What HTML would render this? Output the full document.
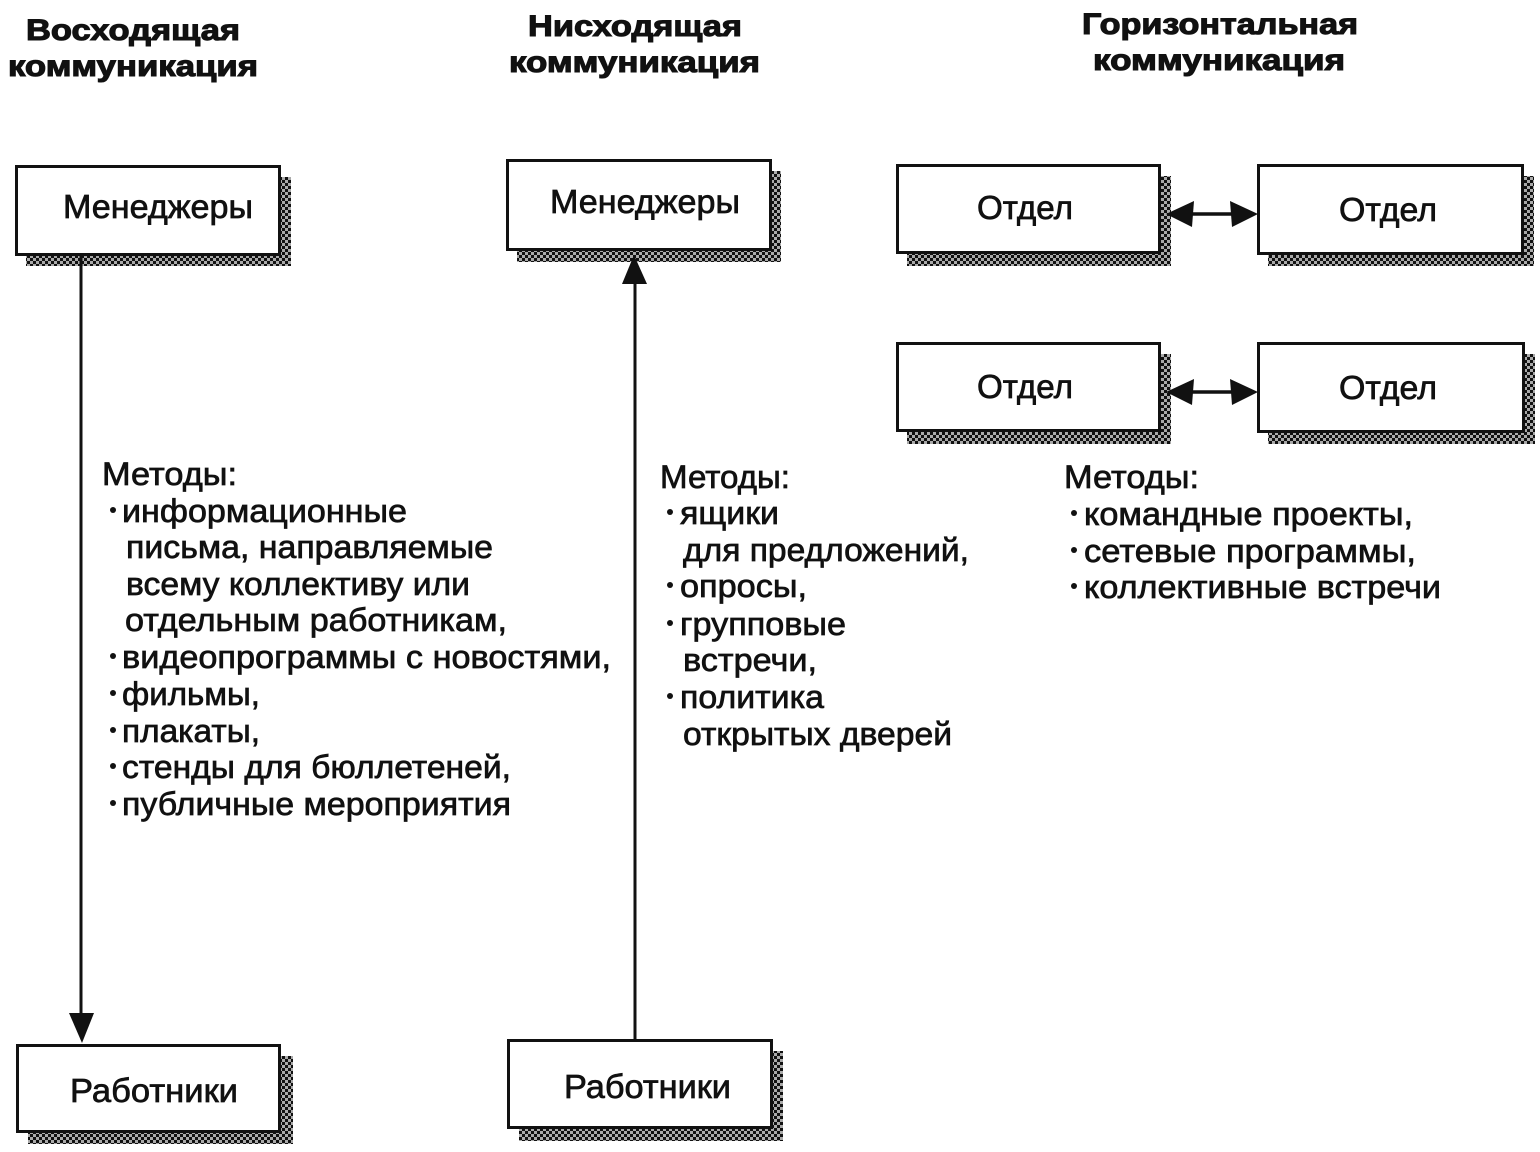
<!DOCTYPE html>
<html lang="ru">
<head>
<meta charset="utf-8">
<title>Коммуникация</title>
<style>
html,body{margin:0;padding:0;background:#fff;width:1540px;height:1152px;overflow:hidden}
svg{display:block}
text{font-family:"Liberation Sans",sans-serif;fill:#111}
.b{font-size:32px;stroke:#111;stroke-width:.7px}
.h{font-size:30px;font-weight:bold;stroke:#111;stroke-width:1.1px}
.l{font-size:33px;stroke:#111;stroke-width:.7px}
.box{fill:#fff;stroke:#111;stroke-width:3px}
.sh{fill:url(#dith)}
.ln{stroke:#111;fill:none}
</style>
</head>
<body>
<svg width="1540" height="1152" viewBox="0 0 1540 1152" xmlns="http://www.w3.org/2000/svg">
<defs>
<pattern id="dith" width="6" height="6" patternUnits="userSpaceOnUse">
<rect width="6" height="6" fill="#aaa"/>
<rect x="0" y="0" width="3" height="3" fill="#111"/>
<rect x="3" y="3" width="3" height="3" fill="#111"/>
</pattern>
</defs>

<!-- headings -->
<text class="h" x="26" y="40" textLength="214" lengthAdjust="spacingAndGlyphs">Восходящая</text>
<text class="h" x="8" y="76" textLength="250" lengthAdjust="spacingAndGlyphs">коммуникация</text>
<text class="h" x="528" y="36" textLength="214" lengthAdjust="spacingAndGlyphs">Нисходящая</text>
<text class="h" x="509" y="72" textLength="251" lengthAdjust="spacingAndGlyphs">коммуникация</text>
<text class="h" x="1082" y="34" textLength="276" lengthAdjust="spacingAndGlyphs">Горизонтальная</text>
<text class="h" x="1093" y="70" textLength="252" lengthAdjust="spacingAndGlyphs">коммуникация</text>

<!-- shadows -->
<rect class="sh" x="26" y="177" width="265" height="89"/>
<rect class="sh" x="517" y="171" width="264" height="91"/>
<rect class="sh" x="907" y="176" width="264" height="90"/>
<rect class="sh" x="1268" y="176" width="266" height="90"/>
<rect class="sh" x="907" y="354" width="264" height="90"/>
<rect class="sh" x="1268" y="354" width="267" height="90"/>
<rect class="sh" x="28" y="1056" width="265" height="88"/>
<rect class="sh" x="519" y="1051" width="264" height="90"/>

<!-- boxes -->
<rect class="box" x="16.5" y="166.5" width="263" height="88"/>
<rect class="box" x="507.5" y="160.5" width="263" height="89"/>
<rect class="box" x="897.5" y="165.5" width="262" height="87"/>
<rect class="box" x="1258.5" y="165.5" width="264" height="88"/>
<rect class="box" x="897.5" y="343.5" width="262" height="87"/>
<rect class="box" x="1258.5" y="343.5" width="265" height="88"/>
<rect class="box" x="17.5" y="1045.5" width="262" height="86"/>
<rect class="box" x="508.5" y="1040.5" width="263" height="87"/>

<!-- box labels -->
<text class="l" x="63" y="218" textLength="190" lengthAdjust="spacingAndGlyphs">Менеджеры</text>
<text class="l" x="550" y="213" textLength="190" lengthAdjust="spacingAndGlyphs">Менеджеры</text>
<text class="l" x="977" y="219" textLength="96" lengthAdjust="spacingAndGlyphs">Отдел</text>
<text class="l" x="1339" y="221" textLength="98" lengthAdjust="spacingAndGlyphs">Отдел</text>
<text class="l" x="977" y="398" textLength="96" lengthAdjust="spacingAndGlyphs">Отдел</text>
<text class="l" x="1339" y="399" textLength="98" lengthAdjust="spacingAndGlyphs">Отдел</text>
<text class="l" x="70" y="1102" textLength="168" lengthAdjust="spacingAndGlyphs">Работники</text>
<text class="l" x="564" y="1098" textLength="167" lengthAdjust="spacingAndGlyphs">Работники</text>

<!-- connectors -->
<line class="ln" x1="81" y1="255" x2="81" y2="1020" stroke-width="3"/>
<polygon points="69,1013 94,1013 82,1043" fill="#111"/>
<line class="ln" x1="635" y1="280" x2="635" y2="1040" stroke-width="3"/>
<polygon points="622,284 647,284 634,255" fill="#111"/>

<line class="ln" x1="1190" y1="214" x2="1235" y2="214" stroke-width="3.5"/>
<polygon points="1166,214 1194,201 1192,227" fill="#111"/>
<polygon points="1258,214 1230,201 1232,227" fill="#111"/>
<line class="ln" x1="1190" y1="392" x2="1235" y2="392" stroke-width="3.5"/>
<polygon points="1166,392 1194,379 1192,405" fill="#111"/>
<polygon points="1258,392 1230,379 1232,405" fill="#111"/>

<!-- left column -->
<text class="b" x="102" y="485" textLength="135" lengthAdjust="spacingAndGlyphs">Методы:</text>
<circle cx="113" cy="510" r="3" fill="#111"/>
<text class="b" x="122" y="522" textLength="285" lengthAdjust="spacingAndGlyphs">информационные</text>
<text class="b" x="126" y="558" textLength="367" lengthAdjust="spacingAndGlyphs">письма, направляемые</text>
<text class="b" x="126" y="595" textLength="344" lengthAdjust="spacingAndGlyphs">всему коллективу или</text>
<text class="b" x="125" y="631" textLength="382" lengthAdjust="spacingAndGlyphs">отдельным работникам,</text>
<circle cx="113" cy="656" r="3" fill="#111"/>
<text class="b" x="122" y="668" textLength="489" lengthAdjust="spacingAndGlyphs">видеопрограммы с новостями,</text>
<circle cx="113" cy="693" r="3" fill="#111"/>
<text class="b" x="122" y="705" textLength="138" lengthAdjust="spacingAndGlyphs">фильмы,</text>
<circle cx="113" cy="730" r="3" fill="#111"/>
<text class="b" x="122" y="742" textLength="138" lengthAdjust="spacingAndGlyphs">плакаты,</text>
<circle cx="113" cy="766" r="3" fill="#111"/>
<text class="b" x="122" y="778" textLength="389" lengthAdjust="spacingAndGlyphs">стенды для бюллетеней,</text>
<circle cx="113" cy="803" r="3" fill="#111"/>
<text class="b" x="122" y="815" textLength="389" lengthAdjust="spacingAndGlyphs">публичные мероприятия</text>

<!-- middle column -->
<text class="b" x="660" y="488" textLength="130" lengthAdjust="spacingAndGlyphs">Методы:</text>
<circle cx="670" cy="512" r="3" fill="#111"/>
<text class="b" x="680" y="524" textLength="99" lengthAdjust="spacingAndGlyphs">ящики</text>
<text class="b" x="683" y="561" textLength="286" lengthAdjust="spacingAndGlyphs">для предложений,</text>
<circle cx="670" cy="585" r="3" fill="#111"/>
<text class="b" x="680" y="597" textLength="127" lengthAdjust="spacingAndGlyphs">опросы,</text>
<circle cx="670" cy="623" r="3" fill="#111"/>
<text class="b" x="680" y="635" textLength="166" lengthAdjust="spacingAndGlyphs">групповые</text>
<text class="b" x="683" y="671" textLength="134" lengthAdjust="spacingAndGlyphs">встречи,</text>
<circle cx="670" cy="696" r="3" fill="#111"/>
<text class="b" x="680" y="708" textLength="144" lengthAdjust="spacingAndGlyphs">политика</text>
<text class="b" x="683" y="745" textLength="269" lengthAdjust="spacingAndGlyphs">открытых дверей</text>

<!-- right column -->
<text class="b" x="1064" y="488" textLength="135" lengthAdjust="spacingAndGlyphs">Методы:</text>
<circle cx="1074" cy="513" r="3" fill="#111"/>
<text class="b" x="1084" y="525" textLength="329" lengthAdjust="spacingAndGlyphs">командные проекты,</text>
<circle cx="1074" cy="550" r="3" fill="#111"/>
<text class="b" x="1084" y="562" textLength="332" lengthAdjust="spacingAndGlyphs">сетевые программы,</text>
<circle cx="1074" cy="586" r="3" fill="#111"/>
<text class="b" x="1084" y="598" textLength="357" lengthAdjust="spacingAndGlyphs">коллективные встречи</text>
</svg>
</body>
</html>
